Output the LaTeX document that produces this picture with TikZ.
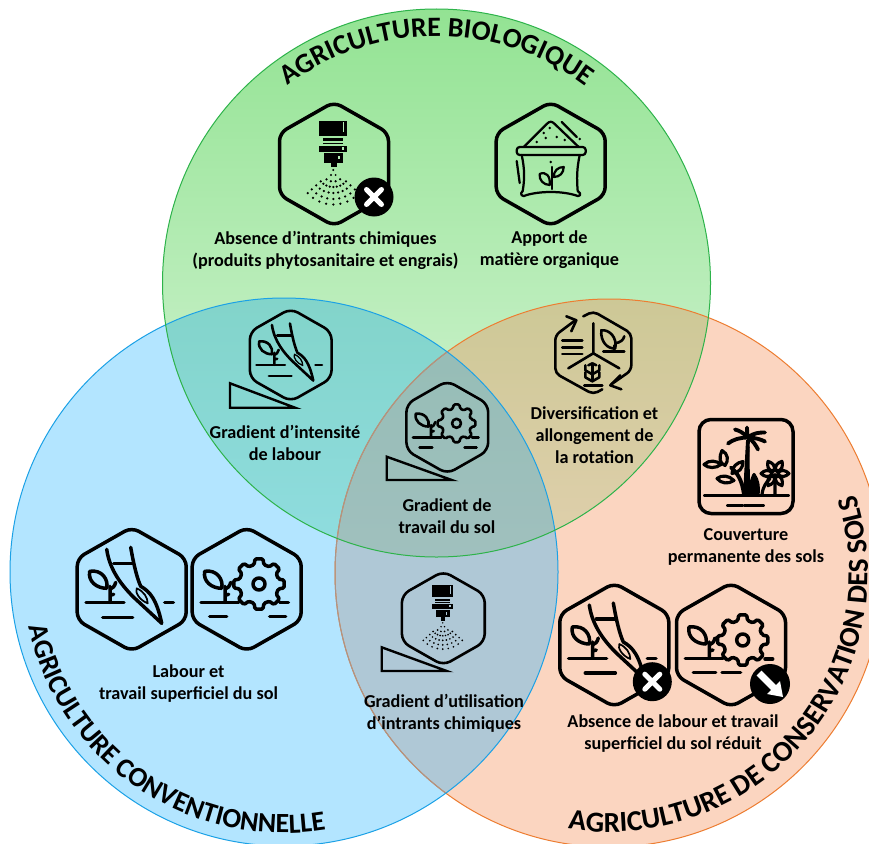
\documentclass[tikz,border=0pt]{standalone}
\usepackage{fontspec}
\setmainfont{Carlito}
\usetikzlibrary{decorations.text}
\definecolor{gtop}{HTML}{93E393}
\definecolor{gbot}{HTML}{DDF6DD}
\definecolor{bluef}{HTML}{B3E5FF}
\definecolor{orf}{HTML}{FBD5C0}
\definecolor{tealt}{HTML}{82D4CA}
\definecolor{tealb}{HTML}{90DDE0}
\definecolor{olvt}{HTML}{CDC896}
\definecolor{olvb}{HTML}{E0D0AD}
\definecolor{gray1}{HTML}{AFC8D6}
\definecolor{midt}{HTML}{96BDB6}
\definecolor{midb}{HTML}{A0C0BE}
\definecolor{gline}{HTML}{2DB34A}
\definecolor{bline}{HTML}{1BA1E6}
\definecolor{oline}{HTML}{ED7D31}
\definecolor{omute}{HTML}{AC9488}
\newcommand{\rr}{274pt}
\newcommand{\hexP}{\draw[ico,rounded corners=8pt] (0,-62) -- (54.5,-31) -- (54.5,31) -- (0,62) -- (-54.5,31) -- (-54.5,-31) -- cycle;}
\newcommand{\plantP}{%
  \draw[ico] (-42,-18) .. controls (-30,-20) and (-23,-10) .. (-25,-1) .. controls (-35,-1) and (-44,-8) .. cycle;
  \draw[ico] (-21.7,13) -- (-21.7,-3) (-21.7,0) .. controls (-19,-1) and (-17,-3) .. (-16,-7) (-21.7,6) -- (-18,5);
}
\newcommand{\gearP}[2]{%
  \begin{scope}[shift={(#1,#2)}]
  \draw[ico,rounded corners=1.4pt] (-14:20)
    \foreach \a in {0,45,...,315} { -- ({\a-14}:20) -- ({\a-9}:25.5) -- ({\a+9}:25.5) -- ({\a+14}:20) } -- cycle;
  \draw[ico] (0,0) circle[radius=6];
  \end{scope}
}
\tikzset{
  lbl/.style={font=\fontsize{18.2}{22}\selectfont\bfseries,align=center,inner sep=0pt,text=black},
  titlearc/.style 2 args={decorate,decoration={text along path,text align=center,text={|\fontsize{#1}{#1}\selectfont\bfseries|#2}}},
  ico/.style={line cap=round,line join=round,draw=black},
  wedge/.style={draw=black,line width=2.4pt,line join=miter,fill=none},
  big/.style={line width=3.5pt},
  small/.style={line width=2.6pt},
  pics/labour/.style={code={
    \hexP
    \plantP
    \draw[ico] (-45.7,13.3) -- (-7.7,13.3) (-29,28) -- (1,28) (33,13.3) -- (41.7,13.3);
    \draw[ico] (-25,-40) .. controls (-22,-18) and (-8,-2) .. (2,8) -- (30,34);
    \draw[ico] (-1,-42) .. controls (2,-25) and (5,-12) .. (9,-3) .. controls (18,2) and (25,10) .. (30,34);
    \draw[ico] (-18,-26) -- (1,-26);
    \draw[ico,line width=.7\pgflinewidth] (5,-1) .. controls (3,3) and (8,11) .. (16,14) .. controls (16,8) and (12,2) .. (5,-1);
  }},
  pics/gearicon/.style={code={
    \hexP
    \plantP
    \gearP{12.3}{-5.3}
    \draw[ico] (-45.7,13.3) -- (-8,13.3) (33,13.3) -- (41.7,13.3) (-37,27) -- (-20,27) (23,27) -- (39,27);
  }},
  pics/gearless/.style={code={
    \hexP
    \plantP
    \gearP{11.7}{-5}
    \draw[ico] (-45.7,13.3) -- (-8,13.3) (34,14) -- (41.7,14) (-37.7,27.3) -- (-15.3,27.3) (-9,27.3) -- (9.6,27.3);
  }},
  pics/sprayer/.style={code={
    \hexP
    \fill (-14.7,-43.3) rectangle (13.3,-28.3);
    \fill (-11.3,-25.7) rectangle (8.7,-23.3);
    \fill (-11.3,-21.3) rectangle (8.7,-19.7);
    \fill (-14.7,-18.3) rectangle (13.3,-12.3);
    \fill (-10,-10.7) rectangle (9.3,-1.3);
    \fill (-3.3,-1.3) rectangle (2.7,3.3);
    \fill[#1] (9,-42.5) rectangle (10,-32);
    \fill[#1] (8,-17) rectangle (9.5,-14.5);
    \fill[#1] (4,-8) rectangle (5.5,-5);
    \foreach \t in {-48,-36,...,48}{
      \foreach \d in {17,23,29,34.5}{
        \fill ([shift={(-0.7,6)}]{90+\t}:{\d}) circle[radius=1.25];
      }
    }
    \foreach \t in {-36,-12,12,36}{
      \fill ([shift={(-0.7,6)}]{90+\t}:{11.5}) circle[radius=1.25];
    }
    \fill (-0.7,6) circle[radius=1.1];
    \fill (-3,11) circle[radius=1.1];
    \fill (1.6,11) circle[radius=1.1];
  }},
  pics/xbadge/.style={code={
    \fill[black] (0,0) circle[radius=19.5];
    \draw[white,line width=5pt,line cap=round] (-7.5,-7.5) -- (7.5,7.5) (-7.5,7.5) -- (7.5,-7.5);
  }},
  pics/arrowbadge/.style={code={
    \fill[black] (0,0) circle[radius=20];
    \draw[white,line width=7pt] (-11,-11) -- (5,5);
    \fill[white] (13,13) -- (-3,10) -- (10,-3) -- cycle;
  }},
  pics/sack/.style={code={
    \hexP
    \begin{scope}[line width=.8\pgflinewidth]
    \draw[ico] (-27,-17) -- (-4,-40) .. controls (-1,-43) and (1,-43) .. (4,-40) -- (28,-17);
    \draw[ico,rounded corners=3pt] (-34,-17) rectangle (35,-9);
    \draw[ico] (-29,-9) .. controls (-26,5) and (-26,15) .. (-28,27);
    \draw[ico] (29,-9) .. controls (26,5) and (26,15) .. (27,27);
    \draw[ico] (-28,27) .. controls (-32,30) and (-28,34) .. (-24,31) .. controls (-10,27) and (10,27) .. (24,31) .. controls (29,34) and (32,30) .. (27,27);
    \draw[ico] (1,3) -- (1,25);
    \draw[ico] (-11,10) .. controls (-5,7) and (0,12) .. (-1,21) .. controls (-7,21) and (-12,16) .. cycle;
    \draw[ico] (13,3) .. controls (13,9) and (9,13) .. (3,13) .. controls (3,7) and (7,3) .. cycle;
    \draw[ico] (11,-42) -- (26,-27) (-34,-3) -- (-31,19);
    \end{scope}
    \foreach \p in {(0,-2),(-14,-22),(-5,-26),(6,-27),(14,-24),(-1,-36),(29,-25),(-7,-31)}{
      \fill \p circle[radius=1.3];
    }
  }},
  pics/rotation/.style={code={
    \draw[ico,rounded corners=5pt] (-10,-37) -- (0,-42) -- (38,-20) -- (38,17) -- (18,31);
    \draw[ico,rounded corners=5pt] (9,36) -- (0,41) -- (-38,20) -- (-38,-18) -- (-18,-33);
    \draw[ico] (-27,-37) -- (-17,-33) -- (-22,-22);
    \draw[ico] (27,22) -- (17,32) -- (28,36);
    \draw[ico] (0,-30) -- (0,0) -- (-25,15) (0,0) -- (26,15);
    \draw[ico] (-31,-13) -- (-11,-13) (-31,-6) -- (-11,-6) (-31,.7) -- (-11,.7);
    \draw[ico] (8,-23) .. controls (16,-24) and (24,-16) .. (22,-5) .. controls (14,-4) and (7,-12) .. cycle;
    \draw[ico] (21,-2) -- (21,-8) (22,-10) .. controls (27,-11) and (30,-13) .. (31,-17);
    \draw[ico] (10,-2) -- (31,-2);
    \draw[ico] (-1,12) -- (-1,28) (-9,32) -- (9,32);
    \draw[ico] (-8,12) -- (-8,17) -- (-1,21) -- (6,17) -- (6,12);
    \draw[ico] (-8,19) -- (-8,24) -- (-1,28) -- (6,24) -- (6,19);
    \draw[ico] (-1,10) -- (-5,12) (-1,10) -- (3,12);
  }},
  pics/palm/.style={code={
    \draw[ico,rounded corners=12pt] (-47,-47) rectangle (47,47);
    \begin{scope}[line width=1.05\pgflinewidth]
    \draw[ico] (-41,29) -- (42,29) (-18,39) -- (-4,39) (-1,39) -- (17,39);
    \draw[ico] (2,-26) .. controls (1,-10) and (0,10) .. (-1,28);
    \fill (1,-20) -- (3.5,-20) -- (4,28) -- (-3,28) -- cycle;
    \draw[ico] (2,-29) .. controls (-3,-34) and (-7,-36) .. (-11,-37);
    \draw[ico] (2,-29) .. controls (-6,-29) and (-13,-27) .. (-18,-23);
    \draw[ico] (2,-29) .. controls (1,-33) and (1,-36) .. (1,-39);
    \draw[ico] (2,-29) .. controls (8,-34) and (14,-34) .. (19,-34);
    \draw[ico] (2,-29) .. controls (9,-29) and (15,-27) .. (19,-25);
    \draw[ico] (2,-29) .. controls (7,-26) and (10,-21) .. (12,-17);
    \draw[ico] (-2,28) .. controls (-4,14) and (-8,7) .. (-15,1);
    \end{scope}
    \begin{scope}[line width=.95\pgflinewidth]
    \draw[ico] (-42,-2) .. controls (-37,-7) and (-29,-6) .. (-25,-2) .. controls (-30,2) and (-38,2) .. cycle;
    \draw[ico] (-24,-16) .. controls (-18,-13) and (-17,-6) .. (-21,-1) .. controls (-27,-3) and (-27,-10) .. cycle;
    \draw[ico] (-3,-5) .. controls (-3,2) and (-7,6) .. (-14,7) .. controls (-14,0) and (-9,-4) .. cycle;
    \draw[ico] (-29,12) .. controls (-24,8) and (-17,9) .. (-12,14) .. controls (-18,18) and (-25,17) .. cycle;
    \draw[ico,fill=black] (5,28) .. controls (4,20) and (5,14) .. (8,8) .. controls (12,14) and (13,20) .. (12,28) -- cycle;
    \foreach \a in {0,60,...,300}{
      \draw[ico,shift={(29,7)},rotate=\a+30] (0,-2.5) .. controls (-5,-6) and (-3,-11) .. (0,-14) .. controls (3,-11) and (5,-6) .. (0,-2.5);
    }
    \draw[ico] (29,28) -- (29,8) (16,28) .. controls (17,20) and (20,16) .. (24,12);
    \end{scope}
  }},
}
\begin{document}
\begin{tikzpicture}[x=1pt,y=-1pt]
\path[use as bounding box,fill=white] (0,0) rectangle (869,843);
\clip (0,0) rectangle (869,843);
\coordinate (cg) at (436.5,283);
\coordinate (cb) at (284,572);
\coordinate (co) at (609,573);
% base discs
\fill[bluef] (cb) circle[radius=\rr];
\fill[orf] (co) circle[radius=\rr];
\shade[top color=gtop,bottom color=gbot] (cg) circle[radius=\rr];
% overlaps
\begin{scope}\clip (cb) circle[radius=\rr]; \clip (co) circle[radius=\rr];
  \fill[gray1] (0,0) rectangle (869,843);
\end{scope}
\begin{scope}\clip (cg) circle[radius=\rr]; \clip (cb) circle[radius=\rr];
  \shade[top color=tealt,bottom color=tealb] (150,298) rectangle (560,560);
\end{scope}
\begin{scope}\clip (cg) circle[radius=\rr]; \clip (co) circle[radius=\rr];
  \shade[top color=olvt,bottom color=olvb] (330,298) rectangle (720,560);
\end{scope}
\begin{scope}\clip (cg) circle[radius=\rr]; \clip (cb) circle[radius=\rr]; \clip (co) circle[radius=\rr];
  \shade[top color=midt,bottom color=midb] (330,340) rectangle (560,560);
\end{scope}
% circle outlines
\draw[oline,line width=1pt] (co) circle[radius=\rr];
\begin{scope}\clip (cb) circle[radius=\rr];
  \draw[omute,line width=1pt] (co) circle[radius=\rr];
\end{scope}
\draw[bline,line width=1pt] (cb) circle[radius=\rr];
\draw[gline,line width=1pt] (cg) circle[radius=\rr];
% titles
\path[titlearc={28}{AGRICULTURE BIOLOGIQUE}] ([shift={(140:247pt)}]cg) arc[start angle=140,end angle=40,radius=247pt];
\path[titlearc={27.8}{AGRICULTURE CONVENTIONNELLE}] ([shift={(165.7:261pt)}]cb) arc[start angle=165.7,end angle=305.7,radius=261pt];
\path[titlearc={29}{AGRICULTURE DE CONSERVATION DES SOLS}] ([shift={(249.3:259pt)}]co) arc[start angle=249.3,end angle=389.3,radius=259pt];
% icons
\pic[big] at (334,164) {sprayer=gtop!70!white};
\pic at (374,197) {xbadge};
\pic[big] at (550.7,164) {sack};
\pic[small,scale=.75] at (290.7,355) {labour};
\draw[wedge] (230,383.3) -- (230,407.7) -- (295,407.7) -- cycle;
\pic[small] at (593.3,353.3) {rotation};
\pic[small,scale=.75] at (447.3,427.3) {gearicon};
\draw[wedge] (386.7,456.7) -- (386.7,480) -- (451.7,480) -- cycle;
\pic[big] at (746,466.5) {palm};
\pic[big] at (131.7,589.3) {labour};
\pic[big] at (246.7,589.3) {gearicon};
\pic[small,scale=.76] at (443.3,618.3) {sprayer=gray1};
\draw[wedge] (381.7,647.3) -- (381.7,671) -- (446.7,671) -- cycle;
\pic[big] at (614.3,645) {labour};
\pic at (652.3,681.7) {xbadge};
\pic[big] at (731,645) {gearless};
\pic at (770,684) {arrowbadge};
% labels
\node[lbl] (t1) at (325.5,250) {Absence d’intrants chimiques\\(produits phytosanitaire et engrais)};
\node[lbl] (t2) at (549.5,250) {Apport de\\matière organique};
\node[lbl] (t3) at (285,443) {Gradient d’intensité\\de labour};
\node[lbl] (t4) at (594.5,435) {Diversification et\\allongement de\\la rotation};
\node[lbl] (t5) at (447,516) {Gradient de\\travail du sol};
\node[lbl] (t6) at (746,546.5) {Couverture\\permanente des sols};
\node[lbl] (t7) at (188.5,684) {Labour et\\travail superficiel du sol};
\node[lbl] (t9) at (444,713) {Gradient d’utilisation\\d’intrants chimiques};
\node[lbl] (t10) at (673,734) {Absence de labour et travail\\superficiel du sol réduit};
\end{tikzpicture}
\end{document}
